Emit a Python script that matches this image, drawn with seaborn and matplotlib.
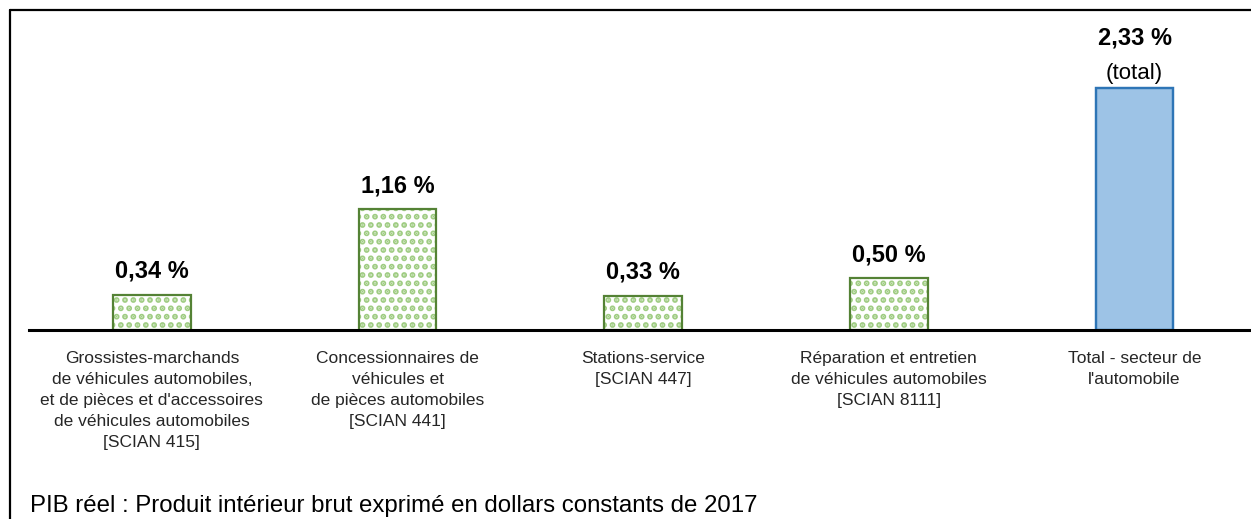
import numpy as np
import pandas as pd
import matplotlib
matplotlib.use("Agg")
import matplotlib.pyplot as plt
from matplotlib.lines import Line2D
import seaborn as sns

categories = [
    "Grossistes-marchands\nde véhicules automobiles,\net de pièces et d'accessoires\nde véhicules automobiles\n[SCIAN 415]",
    "Concessionnaires de\nvéhicules et\nde pièces automobiles\n[SCIAN 441]",
    "Stations-service\n[SCIAN 447]",
    "Réparation et entretien\nde véhicules automobiles\n[SCIAN 8111]",
    "Total - secteur de\nl'automobile",
]
values = [0.34, 1.16, 0.33, 0.50, 2.33]
value_labels = ["0,34 %", "1,16 %", "0,33 %", "0,50 %", "2,33 %"]
footer = "PIB réel : Produit intérieur brut exprimé en dollars constants de 2017"

df = pd.DataFrame({"cat": categories, "val": values})

sns.set_style("white")
plt.rcParams["font.family"] = ["Liberation Sans", "DejaVu Sans"]
plt.rcParams["hatch.linewidth"] = 2.9

fig = plt.figure(figsize=(12.51, 5.19), dpi=100)
ax = fig.add_axes([29 / 1251, 189 / 519, 1222 / 1251, 320 / 519])

W = 0.317
# hatch layer (light green dots)
sns.barplot(data=df, x="cat", y="val", color="white", width=W, ax=ax,
            saturation=1, linewidth=0, errorbar=None)
for i, p in enumerate(ax.patches):
    if i < 4:
        p.set_facecolor("white")
        p.set_edgecolor("#9fcc82")
        p.set_hatch("..")
        p.set_linewidth(0)
    else:
        p.set_facecolor("#9dc3e6")
        p.set_edgecolor("#2e75b6")
        p.set_linewidth(1.6)
n_first = len(ax.patches)
# outline layer
sns.barplot(data=df, x="cat", y="val", color="white", width=W, ax=ax,
            saturation=1, linewidth=1.6, errorbar=None)
for i, p in enumerate(ax.patches[n_first:]):
    p.set_facecolor("none")
    p.set_edgecolor("#548235" if i < 4 else "#2e75b6")

for i, (v, lab) in enumerate(zip(values, value_labels)):
    if i < 4:
        ax.annotate(lab, (i, v), xytext=(0, 12.2), textcoords="offset points",
                    ha="center", va="baseline", fontsize=17, fontweight="bold",
                    color="black")
    else:
        ax.annotate("(total)", (i, v), xytext=(0, 6), textcoords="offset points",
                    ha="center", va="baseline", fontsize=16, color="black")
        ax.annotate(lab, (i, v), xytext=(0, 31), textcoords="offset points",
                    ha="center", va="baseline", fontsize=17, fontweight="bold",
                    color="black")

ax.set_xlim(-0.5, 4.474)
ax.set_ylim(0, 320 / 104)
ax.set_xlabel("")
ax.set_ylabel("")
ax.set_yticks([])
ax.set_xticks(range(len(categories)))
ax.set_xticklabels(categories, fontsize=12.5, linespacing=1.5, color="#262626")
ax.tick_params(axis="x", length=0, pad=15)
for s in ["top", "right", "left"]:
    ax.spines[s].set_visible(False)
ax.spines["bottom"].set_linewidth(2.2)
ax.spines["bottom"].set_color("black")

# outer frame (left and top)
fig.add_artist(Line2D([9.5 / 1251, 9.5 / 1251], [0, 1 - 10 / 519],
                      transform=fig.transFigure, color="black", lw=1.6))
fig.add_artist(Line2D([9.5 / 1251, 1], [1 - 10 / 519, 1 - 10 / 519],
                      transform=fig.transFigure, color="black", lw=1.6))

fig.text(30 / 1251, 7 / 519, footer, fontsize=17.3, ha="left", va="baseline",
         color="black")

fig.savefig("out.png", dpi=100)
